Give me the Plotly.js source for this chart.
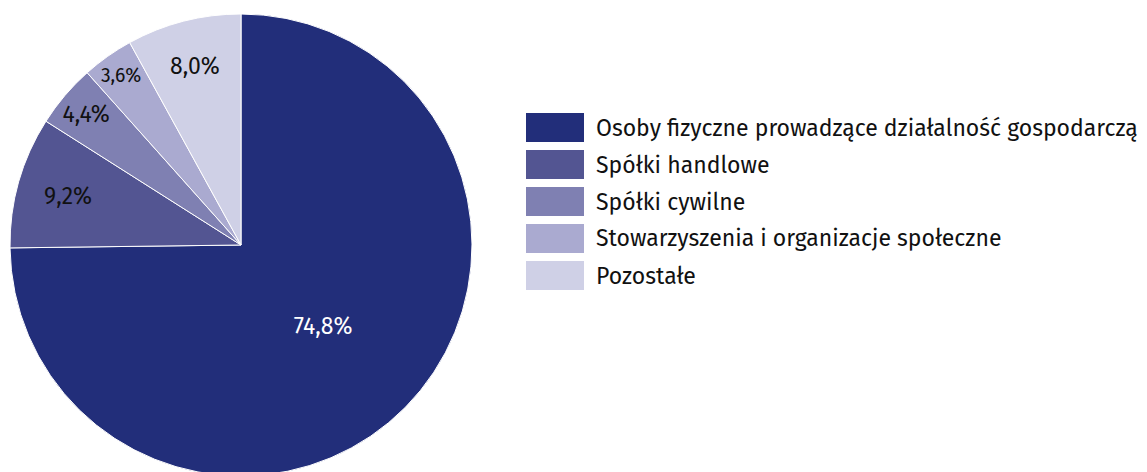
<!DOCTYPE html>
<html><head><meta charset="utf-8">
<script src="https://cdn.plot.ly/plotly-3.0.1.min.js"></script>
<style>html,body{margin:0;padding:0;overflow:hidden;background:#fff}#chart{width:1147px;height:480px}</style>
</head><body><div id="chart"></div>
<script>
const categories = ["Osoby fizyczne prowadzące działalność gospodarczą","Spółki handlowe","Spółki cywilne","Stowarzyszenia i organizacje społeczne","Pozostałe"];
const shares = [74.8, 9.2, 4.4, 3.6, 8.0];
const colors = ["#222e7a","#535592","#7f80b2","#aaaad0","#cfd0e6"];
const labelColors = ["#ffffff","#111111","#111111","#111111","#111111"];

const W = 1147, H = 480;
const FONT = "'Fira Sans', 'Noto Sans', sans-serif";
const cx = 241, cy = 245, R = 231;

const trace = {
  type: "pie",
  labels: categories,
  values: shares,
  sort: false,
  direction: "clockwise",
  rotation: 0,
  marker: {colors: colors, line: {color: "#ffffff", width: 1}},
  texttemplate: "%{value:.1f}%",
  textposition: "inside",
  insidetextorientation: "horizontal",
  textfont: {family: FONT, size: 23, color: labelColors},
  hoverinfo: "label+percent",
  showlegend: false,
  domain: {x: [(cx - R) / W, (cx + R) / W], y: [1 - (cy + R) / H, 1 - (cy - R) / H]}
};

const shapes = [], annotations = [];
const lx0 = 526, lw = 58, lh = 29, ly0 = 113, lstep = 37, tx = 594;
categories.forEach((c, i) => {
  const top = ly0 + i * lstep;
  shapes.push({type: "rect", xref: "paper", yref: "paper",
    x0: lx0 / W, x1: (lx0 + lw) / W, y0: 1 - (top + lh) / H, y1: 1 - top / H,
    fillcolor: colors[i], line: {width: 0}});
  annotations.push({xref: "paper", yref: "paper", x: tx / W, y: 1 - (top + lh / 2) / H,
    xanchor: "left", yanchor: "middle", showarrow: false, text: c,
    font: {family: FONT, size: 23, color: "#111111"}});
});

const layout = {
  width: W, height: H,
  margin: {l: 0, r: 0, t: 0, b: 0},
  paper_bgcolor: "#ffffff",
  separators: ", ",
  shapes: shapes,
  annotations: annotations,
  font: {family: FONT}
};
Plotly.newPlot("chart", [trace], layout, {displayModeBar: false, staticPlot: true});
</script></body></html>
